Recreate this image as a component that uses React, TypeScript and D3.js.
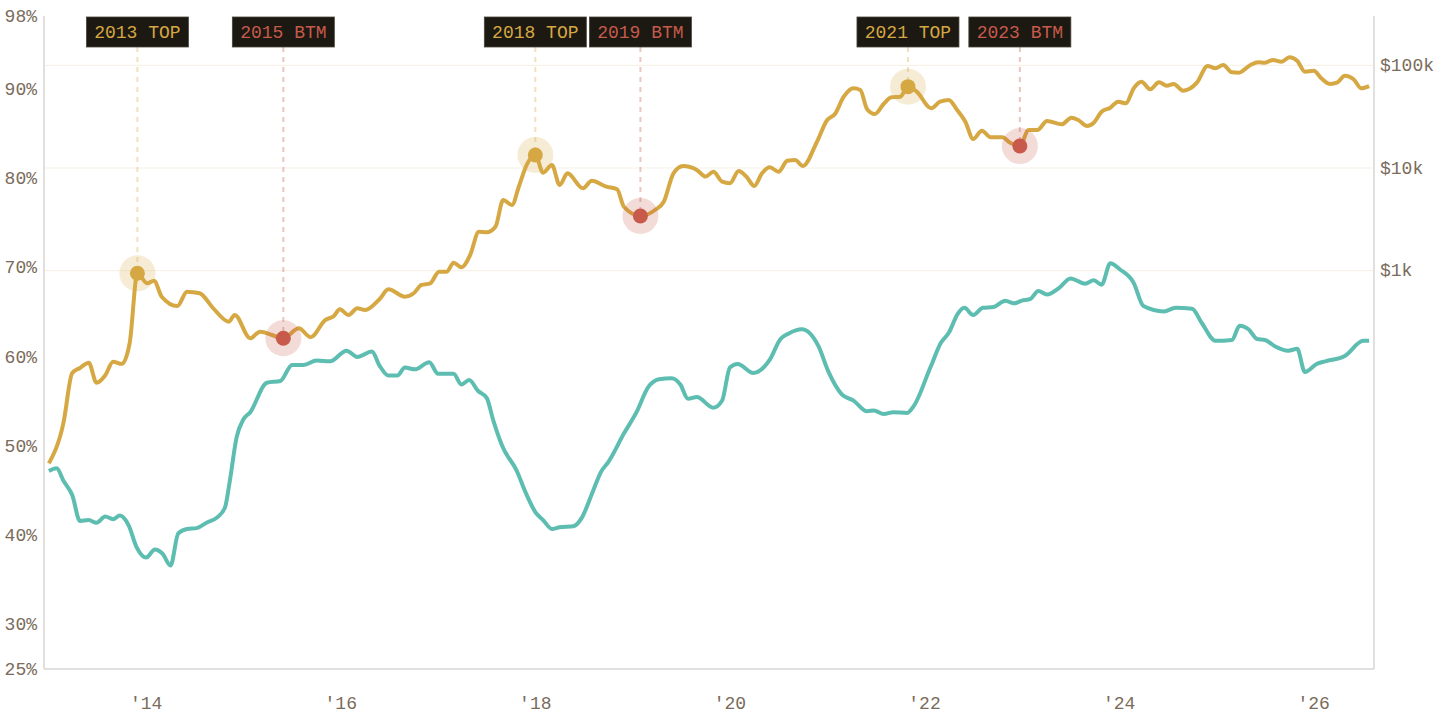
import * as d3 from 'd3';

const W = 1440,
  H = 720;
const M = { top: 16, right: 66, bottom: 51, left: 44 };
const FONT = '"Liberation Mono", "DejaVu Sans Mono", monospace';

// price line (log scale, USD) — decimal year + value
const priceT = [
  2013.0, 2013.15, 2013.24, 2013.32, 2013.41, 2013.49, 2013.58, 2013.66, 2013.75, 2013.83, 2013.91,
  2014.01, 2014.08, 2014.16, 2014.32, 2014.42, 2014.55, 2014.69, 2014.85, 2014.91, 2015.07, 2015.17,
  2015.41, 2015.57, 2015.69, 2015.84, 2015.93, 2015.99, 2016.08, 2016.17, 2016.25, 2016.4, 2016.49,
  2016.66, 2016.75, 2016.83, 2016.92, 2017.01, 2017.09, 2017.16, 2017.24, 2017.33, 2017.42, 2017.5,
  2017.59, 2017.67, 2017.76, 2017.83, 2017.91, 2018.0, 2018.08, 2018.17, 2018.25, 2018.33, 2018.49,
  2018.58, 2018.73, 2018.84, 2018.91, 2019.08, 2019.23, 2019.32, 2019.42, 2019.52, 2019.66, 2019.75,
  2019.83, 2019.92, 2020.0, 2020.09, 2020.17, 2020.25, 2020.33, 2020.41, 2020.5, 2020.59, 2020.67,
  2020.75, 2020.89, 2021.0, 2021.08, 2021.17, 2021.27, 2021.34, 2021.41, 2021.49, 2021.58, 2021.66,
  2021.75, 2021.83, 2021.92, 2022.07, 2022.16, 2022.25, 2022.33, 2022.42, 2022.5, 2022.59, 2022.68,
  2022.8, 2022.88, 2022.98, 2023.07, 2023.16, 2023.26, 2023.41, 2023.51, 2023.58, 2023.67, 2023.74,
  2023.82, 2023.91, 2023.99, 2024.07, 2024.15, 2024.23, 2024.32, 2024.41, 2024.49, 2024.56, 2024.66,
  2024.8, 2024.91, 2024.99, 2025.07, 2025.16, 2025.23, 2025.35, 2025.43, 2025.5, 2025.58, 2025.67,
  2025.75, 2025.83, 2025.91, 2026.0, 2026.08, 2026.17, 2026.24, 2026.32, 2026.41, 2026.49, 2026.57,
];
const priceV = [
  13.3, 33, 101, 113, 127, 81, 96, 130, 124, 196, 944,
  754, 800, 558, 453, 625, 603, 430, 319, 371, 220, 255,
  220, 275, 225, 331, 362, 421, 371, 430, 414, 530, 659,
  558, 603, 726, 754, 978, 978, 1197, 1080, 1422, 2399, 2366,
  2681, 4880, 4362, 6577, 10690, 13390, 8995, 10690, 6823, 8872, 6339,
  7516, 6577, 6207, 4198, 3412, 3899, 4699, 8872, 10450, 9570, 8260,
  9204, 7362, 7096, 9350, 8222, 6683, 8872, 10160, 9204, 11780, 11970,
  10450, 17620, 29310, 33570, 49430, 59700, 57540, 37330, 33570, 41980, 48750,
  49430, 61940, 55340, 38110, 44250, 45920, 37330, 28240, 19150, 23080, 19900,
  19900, 17620, 16370, 23440, 23440, 28700, 26660, 30900, 29310, 25640, 27610,
  35320, 38640, 44250, 42660, 59700, 69180, 58340, 68230, 63240, 65770, 56620,
  67700, 98400, 93500, 100700, 85500, 84700, 100700, 106900, 106000, 112700, 108400,
  119700, 110900, 86700, 88500, 74600, 65770, 67700, 79200, 73100, 59700, 62800,
];

// percent line (left axis)
const pctT = [
  2013.0, 2013.08, 2013.15, 2013.24, 2013.32, 2013.41, 2013.49, 2013.58, 2013.66, 2013.73, 2013.82,
  2013.9, 2014.0, 2014.09, 2014.17, 2014.25, 2014.33, 2014.42, 2014.52, 2014.62, 2014.73, 2014.81,
  2014.86, 2014.93, 2015.0, 2015.07, 2015.24, 2015.38, 2015.5, 2015.62, 2015.75, 2015.89, 2016.06,
  2016.17, 2016.32, 2016.4, 2016.49, 2016.58, 2016.66, 2016.76, 2016.91, 2017.0, 2017.16, 2017.24,
  2017.32, 2017.41, 2017.5, 2017.57, 2017.66, 2017.81, 2017.9, 2018.0, 2018.08, 2018.17, 2018.25,
  2018.39, 2018.48, 2018.58, 2018.68, 2018.75, 2018.91, 2019.04, 2019.16, 2019.27, 2019.4, 2019.49,
  2019.57, 2019.66, 2019.83, 2019.92, 2020.0, 2020.08, 2020.24, 2020.41, 2020.52, 2020.6, 2020.74,
  2020.91, 2021.01, 2021.15, 2021.27, 2021.41, 2021.48, 2021.58, 2021.68, 2021.82, 2021.89, 2022.06,
  2022.17, 2022.25, 2022.34, 2022.41, 2022.5, 2022.6, 2022.71, 2022.83, 2022.92, 2023.0, 2023.09,
  2023.17, 2023.26, 2023.38, 2023.5, 2023.65, 2023.74, 2023.82, 2023.91, 2024.01, 2024.15, 2024.25,
  2024.46, 2024.58, 2024.75, 2024.85, 2024.99, 2025.16, 2025.24, 2025.33, 2025.42, 2025.5, 2025.6,
  2025.74, 2025.83, 2025.91, 2026.03, 2026.12, 2026.32, 2026.51, 2026.57,
];
const pctV = [
  47.2, 47.5, 46.1, 44.5, 41.6, 41.7, 41.4, 42.1, 41.8, 42.2, 41.1,
  38.7, 37.5, 38.4, 37.9, 36.6, 40.2, 40.7, 40.8, 41.4, 42.0, 43.1,
  46.1, 51.0, 53.0, 53.8, 57.1, 57.3, 59.1, 59.1, 59.6, 59.5, 60.7,
  60.0, 60.6, 59.0, 57.9, 57.9, 58.8, 58.6, 59.4, 58.1, 58.1, 56.9,
  57.4, 56.2, 55.4, 52.8, 50.0, 47.2, 44.8, 42.6, 41.7, 40.7, 40.9,
  41.0, 42.0, 44.6, 47.2, 48.2, 51.4, 53.8, 56.6, 57.5, 57.6, 56.9,
  55.3, 55.5, 54.3, 55.1, 58.8, 59.2, 58.2, 59.7, 62.0, 62.6, 63.1,
  61.2, 58.4, 55.8, 55.1, 53.9, 54.0, 53.6, 53.8, 53.7, 54.5, 58.8,
  61.6, 62.7, 64.8, 65.5, 64.7, 65.5, 65.6, 66.3, 66.0, 66.3, 66.5,
  67.4, 67.0, 67.7, 68.8, 68.2, 68.6, 68.1, 70.5, 69.8, 68.3, 65.7,
  65.1, 65.5, 65.4, 63.8, 61.8, 61.9, 63.5, 63.1, 62.0, 61.9, 61.2,
  60.7, 60.9, 58.3, 59.2, 59.5, 60.1, 61.8, 61.8,
];

// cycle markers
const markLabels = ['2013 TOP', '2015 BTM', '2018 TOP', '2019 BTM', '2021 TOP', '2023 BTM'];
const markT = [2013.91, 2015.41, 2018.0, 2019.08, 2021.83, 2022.98];
const markV = [944, 220, 13390, 3412, 61940, 16370];

const pctTicks = [25, 30, 40, 50, 60, 70, 80, 90, 98];
const priceTicks = [1000, 10000, 100000];
const priceTickLabels = ['$1k', '$10k', '$100k'];
const yearTicks = [2014, 2016, 2018, 2020, 2022, 2024, 2026];

const GOLD = '#d6a843';
const RED = '#c75a4b';
const TEAL = '#5dbdb1';
const AXIS_TEXT = '#7a6b5b';

export default function App() {
  const x0 = M.left,
    x1 = W - M.right,
    yTop = M.top,
    yBot = H - M.bottom;

  const x = d3.scaleLinear().domain([2012.95, 2026.62]).range([x0, x1]);
  const yPct = d3.scaleLinear().domain([25, 98]).range([yBot, yTop + 2]);
  const yPrice = d3.scaleLog().domain([0.1324, 302000]).range([yBot, yTop]);

  const priceLine = d3
    .line<number>()
    .x((_, i) => x(priceT[i]))
    .y(d => yPrice(d))
    .curve(d3.curveMonotoneX)(priceV);

  const pctLine = d3
    .line<number>()
    .x((_, i) => x(pctT[i]))
    .y(d => yPct(d))
    .curve(d3.curveMonotoneX)(pctV);

  return (
    <div style={{ position: 'fixed', left: 0, top: 0 }}>
      <svg width={W} height={H} style={{ display: 'block', background: '#fff' }} fontFamily={FONT}>
        {/* price grid */}
        {priceTicks.map(t => (
          <line key={t} x1={x0} x2={x1} y1={yPrice(t)} y2={yPrice(t)} stroke="#f8f1e7" strokeWidth={1.2} />
        ))}

        {/* axes */}
        <line x1={x0} x2={x0} y1={yTop} y2={yBot} stroke="#e2e0de" strokeWidth={2} />
        <line x1={x1} x2={x1} y1={yTop} y2={yBot} stroke="#e2e0de" strokeWidth={2} />
        <line x1={x0} x2={x1} y1={yBot} y2={yBot} stroke="#e2e0de" strokeWidth={2} />

        {pctTicks.map(t => (
          <text key={t} x={x0 - 7} y={t === 98 ? yTop + 1 : yPct(t) + 1} textAnchor="end" dominantBaseline="middle" fontSize={18} fill={AXIS_TEXT}>
            {t}%
          </text>
        ))}
        {priceTicks.map((t, i) => (
          <text key={t} x={x1 + 6} y={yPrice(t) + 1} dominantBaseline="middle" fontSize={18} fill={AXIS_TEXT}>
            {priceTickLabels[i]}
          </text>
        ))}
        {yearTicks.map(t => (
          <text key={t} x={x(t)} y={704} textAnchor="middle" dominantBaseline="middle" fontSize={18} fill={AXIS_TEXT}>
            '{String(t).slice(2)}
          </text>
        ))}

        {/* dashed drop lines */}
        {markLabels.map((l, i) => {
          const c = l.includes('TOP') ? GOLD : RED;
          return (
            <line
              key={l}
              x1={x(markT[i])}
              x2={x(markT[i])}
              y1={47}
              y2={yPrice(markV[i])}
              stroke={c}
              strokeOpacity={0.35}
              strokeWidth={2}
              strokeDasharray="5,5"
            />
          );
        })}

        <path d={pctLine ?? ''} fill="none" stroke={TEAL} strokeWidth={4} strokeLinejoin="round" />
        <path d={priceLine ?? ''} fill="none" stroke={GOLD} strokeWidth={4} strokeLinejoin="round" />

        {/* markers */}
        {markLabels.map((l, i) => {
          const c = l.includes('TOP') ? GOLD : RED;
          const cx = x(markT[i]);
          const cy = yPrice(markV[i]);
          return (
            <g key={l}>
              <circle cx={cx} cy={cy} r={18} fill={c} fillOpacity={0.22} />
              <circle cx={cx} cy={cy} r={7.5} fill={c} />
            </g>
          );
        })}

        {/* labels */}
        {markLabels.map((l, i) => {
          const c = l.includes('TOP') ? GOLD : RED;
          const cx = x(markT[i]);
          return (
            <g key={l}>
              <rect x={cx - 51} y={17} width={102} height={30} fill="#1c1812" stroke="#4a453d" strokeWidth={0.8} />
              <text x={cx} y={33} textAnchor="middle" dominantBaseline="middle" fontSize={18} fill={c}>
                {l}
              </text>
            </g>
          );
        })}
      </svg>
    </div>
  );
}
